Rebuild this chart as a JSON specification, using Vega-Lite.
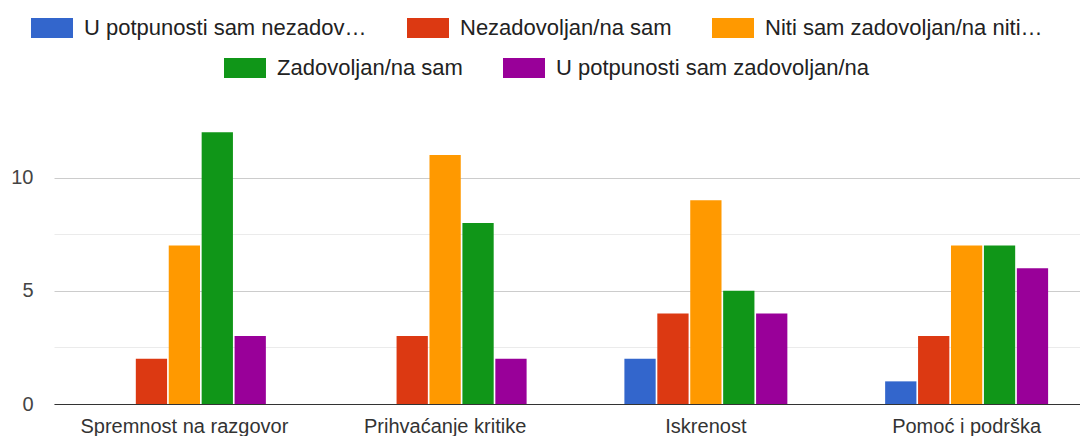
{
  "$schema": "https://vega.github.io/schema/vega-lite/v6.json",
  "width": 1026,
  "height": 283,
  "autosize": {"type": "none"},
  "padding": {"left": 54, "top": 121, "right": 0, "bottom": 32},
  "background": "white",
  "config": {"view": {"stroke": null}, "font": "Liberation Sans"},
  "data": {
    "values": [
      {"category": "Spremnost na razgovor", "series": "U potpunosti sam nezadovoljan/na", "count": 0},
      {"category": "Spremnost na razgovor", "series": "Nezadovoljan/na sam", "count": 2},
      {"category": "Spremnost na razgovor", "series": "Niti sam zadovoljan/na niti nezadovoljan/na", "count": 7},
      {"category": "Spremnost na razgovor", "series": "Zadovoljan/na sam", "count": 12},
      {"category": "Spremnost na razgovor", "series": "U potpunosti sam zadovoljan/na", "count": 3},
      {"category": "Prihvaćanje kritike", "series": "U potpunosti sam nezadovoljan/na", "count": 0},
      {"category": "Prihvaćanje kritike", "series": "Nezadovoljan/na sam", "count": 3},
      {"category": "Prihvaćanje kritike", "series": "Niti sam zadovoljan/na niti nezadovoljan/na", "count": 11},
      {"category": "Prihvaćanje kritike", "series": "Zadovoljan/na sam", "count": 8},
      {"category": "Prihvaćanje kritike", "series": "U potpunosti sam zadovoljan/na", "count": 2},
      {"category": "Iskrenost", "series": "U potpunosti sam nezadovoljan/na", "count": 2},
      {"category": "Iskrenost", "series": "Nezadovoljan/na sam", "count": 4},
      {"category": "Iskrenost", "series": "Niti sam zadovoljan/na niti nezadovoljan/na", "count": 9},
      {"category": "Iskrenost", "series": "Zadovoljan/na sam", "count": 5},
      {"category": "Iskrenost", "series": "U potpunosti sam zadovoljan/na", "count": 4},
      {"category": "Pomoć i podrška", "series": "U potpunosti sam nezadovoljan/na", "count": 1},
      {"category": "Pomoć i podrška", "series": "Nezadovoljan/na sam", "count": 3},
      {"category": "Pomoć i podrška", "series": "Niti sam zadovoljan/na niti nezadovoljan/na", "count": 7},
      {"category": "Pomoć i podrška", "series": "Zadovoljan/na sam", "count": 7},
      {"category": "Pomoć i podrška", "series": "U potpunosti sam zadovoljan/na", "count": 6}
    ]
  },
  "encoding": {
    "x": {
      "field": "category",
      "type": "nominal",
      "sort": ["Spremnost na razgovor", "Prihvaćanje kritike", "Iskrenost", "Pomoć i podrška"],
      "scale": {"range": [0, 1043], "paddingInner": 0.375, "paddingOuter": 0.1875},
      "axis": {
        "title": null,
        "labelAngle": 0,
        "labelFontSize": 20,
        "labelColor": "#333333",
        "labelPadding": 12.5,
        "labelLimit": 400,
        "ticks": false,
        "tickSize": 0,
        "domainColor": "#333333",
        "domainWidth": 1,
        "grid": false,
        "zindex": 1
      }
    },
    "xOffset": {
      "field": "series",
      "type": "nominal",
      "scale": {
        "domain": ["U potpunosti sam nezadovoljan/na", "Nezadovoljan/na sam", "Niti sam zadovoljan/na niti nezadovoljan/na", "Zadovoljan/na sam", "U potpunosti sam zadovoljan/na"],
        "paddingInner": 0.05
      }
    },
    "y": {
      "field": "count",
      "type": "quantitative",
      "scale": {"domain": [0, 12.5], "nice": false},
      "axis": {
        "title": null,
        "values": [0, 2.5, 5, 7.5, 10],
        "labelExpr": "datum.value % 5 === 0 ? datum.label : ''",
        "gridColor": {"condition": {"test": "datum.value % 5 !== 0", "value": "#ebebeb"}, "value": "#cccccc"},
        "domain": false,
        "ticks": false,
        "tickSize": 0,
        "labelPadding": 21,
        "labelFontSize": 20,
        "labelColor": "#444444"
      }
    }
  },
  "layer": [
    {
      "transform": [{"filter": {"field": "series", "oneOf": ["U potpunosti sam nezadovoljan/na", "Nezadovoljan/na sam", "Niti sam zadovoljan/na niti nezadovoljan/na"]}}],
      "mark": {"type": "bar"},
      "encoding": {
        "color": {
          "field": "series",
          "type": "nominal",
          "scale": {
            "domain": ["U potpunosti sam nezadovoljan/na", "Nezadovoljan/na sam", "Niti sam zadovoljan/na niti nezadovoljan/na"],
            "range": ["#3366cc", "#dc3912", "#ff9900"]
          },
          "legend": {
            "orient": "none",
            "legendX": -23,
            "legendY": -114,
            "direction": "horizontal",
            "title": null,
            "symbolType": "M-1,-0.476H1V0.476H-1Z",
            "symbolSize": 1764,
            "symbolStrokeWidth": 0,
            "labelFontSize": 22,
            "labelLimit": 283,
            "labelOffset": 11,
            "labelColor": "#222222",
            "columnPadding": 40,
            "padding": 0
          }
        }
      }
    },
    {
      "transform": [{"filter": {"field": "series", "oneOf": ["Zadovoljan/na sam", "U potpunosti sam zadovoljan/na"]}}],
      "mark": {"type": "bar"},
      "encoding": {
        "fill": {
          "field": "series",
          "type": "nominal",
          "scale": {
            "domain": ["Zadovoljan/na sam", "U potpunosti sam zadovoljan/na"],
            "range": ["#109618", "#990099"]
          },
          "legend": {
            "orient": "none",
            "legendX": 170,
            "legendY": -74,
            "direction": "horizontal",
            "title": null,
            "symbolType": "M-1,-0.476H1V0.476H-1Z",
            "symbolSize": 1764,
            "symbolStrokeWidth": 0,
            "labelFontSize": 22,
            "labelLimit": 400,
            "labelOffset": 11,
            "labelColor": "#222222",
            "columnPadding": 40,
            "padding": 0
          }
        }
      }
    }
  ]
}
